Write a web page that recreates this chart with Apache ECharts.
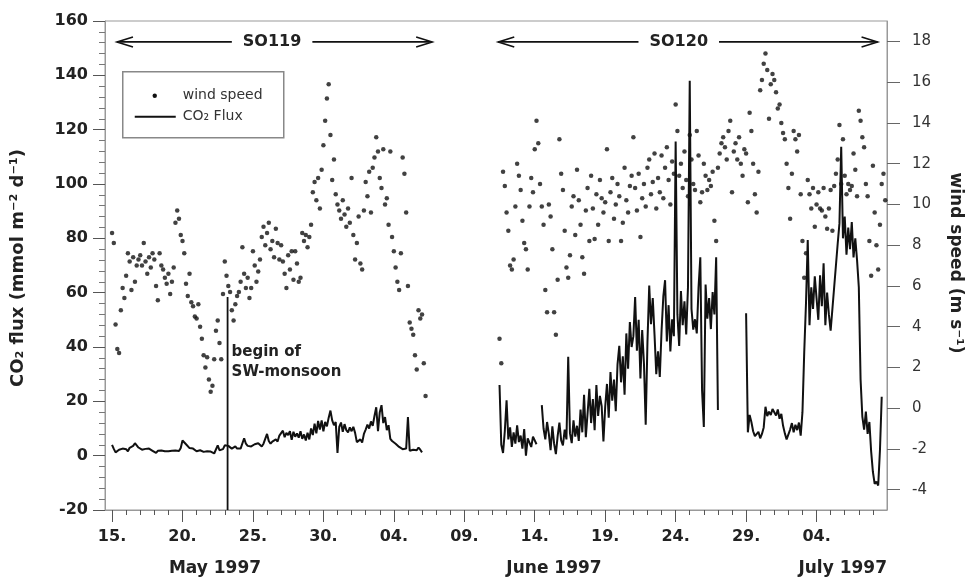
<!DOCTYPE html>
<html>
<head>
<meta charset="utf-8">
<title>CO2 flux and wind speed, SO119 / SO120</title>
<script src="https://cdn.jsdelivr.net/npm/echarts@6/dist/echarts.min.js"></script>
<style>
  html, body { margin: 0; padding: 0; background: #fff; }
  #chart { width: 968px; height: 578px; }
</style>
</head>
<body>
<div id="chart"></div>
<script>
// ---- measurements: 3-hourly samples, x in days counted from 1 May 1997 ----
const SAMPLE_STEP = 0.125;

// wind speed (m s-1), cruise SO119, first sample 15 May 00:00
const windSO119 = [
  8.6, 8.1, 4.1, 2.9, 2.7, 4.8, 5.9, 5.4,
  6.5, 7.6, 7.2, 5.8, 7.4, 6.2, 7.0, 7.3,
  7.5, 7.0, 8.1, 7.2, 6.6, 7.4, 6.9, 7.6,
  7.3, 6.0, 5.3, 7.6, 7.0, 6.8, 6.4, 6.1,
  6.6, 5.6, 6.2, 6.9, 9.1, 9.7, 9.3, 8.5,
  8.2, 7.6, 6.1, 5.5, 6.6, 5.2, 5.0, 4.5,
  4.4, 5.1, 4.0, 3.4, 2.6, 2.0, 2.5, 1.4,
  0.8, 1.1, 2.4, 3.8, 4.3, 3.2, 2.4, 5.6,
  7.2, 6.5, 6.0, 5.7, 4.8, 4.3, 5.1, 5.5,
  5.7, 6.2, 7.9, 6.6, 5.9, 6.4, 5.4, 5.9,
  7.7, 7.0, 6.2, 6.7, 7.3, 8.4, 8.9, 8.0,
  8.6, 9.1, 7.8, 8.2, 7.4, 8.8, 8.1, 7.3,
  8.0, 7.2, 6.6, 5.9, 7.5, 6.8, 7.7, 6.3,
  7.7, 7.1, 6.2, 6.4, 8.6, 8.2, 8.5, 7.9,
  8.4, 9.0, 10.6, 11.1, 10.2, 11.3, 9.8, 11.7,
  12.9, 14.1, 15.2, 15.9, 13.4, 11.2, 12.2, 10.5,
  10.0, 9.7, 9.3, 10.2, 9.5, 8.9, 9.8, 9.1,
  11.3, 8.5, 7.3, 8.1, 9.4, 7.1, 6.8, 9.7,
  11.1, 10.4, 11.6, 9.6, 11.8, 12.3, 13.3, 12.6,
  11.3, 10.8, 12.7, 10.0, 10.3, 9.0, 12.6, 8.4,
  7.7, 6.9, 6.2, 5.8, 7.6, 12.3, 11.5, 9.6,
  6.0, 4.2, 3.9, 3.6, 2.6, 1.9, 4.8, 4.4,
  4.6, 2.2, 0.6
];

// wind speed (m s-1), cruise SO120, first sample 11 June 12:00
const windSO120 = [
  3.4, 2.2, 11.6, 10.9,
  9.6, 8.7, 7.0, 6.8, 7.3, 9.9, 12.0, 11.4,
  10.7, 9.2, 8.1, 7.8, 6.8, 9.9, 11.3, 10.6,
  12.7, 14.1, 13.0, 11.0, 9.9, 9.0, 5.8, 4.7,
  10.0, 9.4, 7.8, 4.7, 3.6, 6.3, 13.2, 11.5,
  10.7, 8.7, 6.9, 6.4, 7.5, 9.9, 10.4, 8.5,
  11.7, 10.2, 9.0, 7.4, 6.6, 9.7, 10.8, 8.2,
  11.4, 9.8, 8.3, 10.5, 9.0, 11.2, 10.3, 9.6,
  10.1, 12.7, 8.2, 10.6, 11.3, 9.3, 10.0, 11.0,
  10.4, 8.2, 9.1, 11.8, 10.2, 9.6, 10.9, 11.4,
  13.3, 10.8, 9.7, 11.5, 8.4, 10.3, 11.0, 9.9,
  11.8, 12.2, 10.5, 11.1, 12.5, 9.8, 11.3, 10.6,
  12.4, 10.3, 11.8, 12.8, 11.2, 10.0, 12.1, 11.5,
  14.9, 13.6, 11.4, 12.0, 10.8, 12.6, 11.2, 10.4,
  13.4, 12.2, 11.0, 10.7, 13.6, 12.4, 10.1, 10.6,
  12.0, 11.4, 10.7, 11.2, 10.9, 11.6, 9.2, 8.2,
  11.8, 12.5, 13.0, 13.3, 12.8, 12.2, 13.6, 14.1,
  10.6, 12.6, 13.0, 12.2, 13.3, 12.0, 11.4, 12.7,
  12.5, 10.1, 14.5, 13.6, 12.0, 10.5, 9.6, 11.6,
  15.6, 16.1, 16.9, 17.4, 16.6, 14.2, 15.9, 16.4,
  16.1, 15.5, 14.7, 14.9, 14.0, 13.5, 13.2, 12.0,
  10.8, 9.3, 11.5, 13.6, 13.2, 12.6, 13.4, 10.5,
  8.2, 6.4, 7.6, 11.2, 10.5, 9.8, 10.8, 8.9,
  10.0, 10.6, 9.8, 9.7, 10.8, 9.4, 8.8, 9.8,
  10.7, 8.7, 10.9, 11.5, 12.2, 13.9, 11.0, 13.2,
  11.4, 10.5, 11.0, 10.7, 10.9, 12.5, 11.7, 10.4,
  14.6, 14.1, 13.3, 12.8, 11.0, 10.4, 8.2, 6.5,
  11.9, 9.6, 8.0, 6.8, 9.0, 11.0, 11.5, 10.2
];

// CO2 flux (mmol m-2 d-1), cruise SO119, first sample 15 May 00:00
const fluxSO119 = [
  4.0, 2.5, 1.2, 1.0, 2.2, 1.8, 2.6, 2.0,
  2.4, 1.6, 2.9, 2.2, 3.6, 4.6, 3.8, 3.0,
  2.8, 2.2, 1.9, 2.5, 3.0, 2.6, 2.2, 1.8,
  1.4, 1.0, 1.8, 2.3, 1.9, 2.2, 1.6, 1.3,
  1.6, 2.2, 1.8, 1.5, 1.9, 2.4, 1.7, 2.8,
  5.6, 5.0, 4.2, 3.6, 2.8, 2.2, 2.6, 2.0,
  1.6, 1.3, 2.0, 1.8, 1.4, 1.2, 1.6, 1.9,
  1.5, 1.0, 0.8, 1.2, 3.8, 2.0, 1.5, 2.4,
  3.8, 4.2, 3.6, 3.2, 2.6, 3.0, 3.4, 2.6,
  3.0, 2.6, 3.2, 6.4, 4.4, 3.6, 4.0, 3.4,
  3.8, 4.2, 3.6, 4.6, 4.0, 3.4, 4.4, 5.0,
  8.0, 5.4, 4.4, 5.2, 4.6, 6.0, 5.2, 7.4,
  7.0, 9.2, 6.8, 8.4, 7.6, 9.0, 5.8, 8.8,
  7.0, 8.2, 6.6, 9.0, 6.2, 7.8, 5.6, 8.4,
  6.0, 10.0, 7.6, 11.8, 8.2, 12.8, 9.6, 13.0,
  9.0, 12.4, 10.8, 14.0, 16.6, 13.0, 11.2, 12.4,
  1.0, 10.6, 12.2, 8.8, 11.6, 9.4, 8.6, 10.4,
  9.0, 10.6, 8.4, 5.0, 4.4, 6.0, 4.8, 8.0,
  9.6, 11.4, 10.0, 12.6, 11.0, 14.6, 17.8, 9.0,
  16.0, 18.6, 12.0, 14.2, 9.4, 11.2, 6.2, 5.4,
  5.0, 4.4, 3.8, 3.2, 2.8, 2.4, 2.0, 2.6,
  14.2, 1.8, 1.6, 2.2, 1.8, 2.0, 3.0, 2.2,
  1.2
];

// CO2 flux (mmol m-2 d-1), cruise SO120, first sample 11 June 12:00 (null = no record)
const fluxSO120 = [
  26.0, 4.0, 1.0, 9.0,
  20.4, 6.0, 10.4, 3.2, 8.6, 4.4, 11.2, 5.0,
  7.4, 2.6, 9.8, 0.0, 6.4, 4.8, 3.2, 7.0,
  6.6, 4.2, null, null, 18.6, 10.0, 6.0, 12.4,
  8.0, 2.0, 10.8, 4.4, 0.6, 7.2, 12.2, 5.6,
  3.8, 9.6, 6.0, 36.4, 8.2, 4.6, 13.0, 7.0,
  11.0, 5.4, 17.0, 8.6, 22.4, 6.8, 15.6, 24.6,
  12.0, 20.8, 9.4, 26.0, 14.6, 22.0, 18.2, 5.2,
  18.0, 26.4, 14.0, 30.8, 20.2, 28.0, 16.4, 33.6,
  40.4, 27.0, 36.6, 22.4, 45.0, 32.0, 49.2, 40.0,
  44.0, 58.4, 38.6, 50.0, 28.4, 46.2, 34.0, 11.4,
  42.0, 62.6, 48.4, 58.0, 44.6, 30.0, 38.4, 29.0,
  46.0, 58.6, 64.6, 42.0, 55.4, 38.4, 50.2, 44.0,
  115.6, 52.0, 40.4, 60.6, 48.0, 56.8, 44.6, 62.0,
  138.0, 54.0, 46.4, 50.2, 45.0, 62.0, 73.0, 24.0,
  10.6, 63.0, 50.4, 58.0, 46.6, 60.2, 52.0, 73.0,
  16.8, null, null, null, null, null, null, null,
  null, null, null, null, null, null, null, null,
  52.4, 8.6, 15.0, 12.4, 9.0, 7.2, 6.6, 8.8,
  6.4, 8.0, 10.4, 18.0, 14.6, 16.2, 15.0, 17.2,
  16.0, 14.8, 17.0, 13.6, 15.4, 11.0, 8.2, 6.0,
  5.8, 9.6, 12.0, 8.6, 11.4, 9.4, 12.2, 7.4,
  16.0, 38.0, 56.0, 79.4, 48.0, 62.0, 54.0, 66.0,
  58.0, 50.0, 66.4, 55.0, 70.8, 48.0, 60.0, 52.0,
  46.0, 54.0, 62.0, 70.0, 78.0, 85.5, 113.7, 80.0,
  88.0, 74.0, 84.0, 76.0, 86.0, 73.0, 80.0, 72.0,
  62.0, 28.0, 14.4, 9.6, 16.2, 8.0, 12.4, 1.6,
  -6.0, -10.4, -9.6, -11.0, 2.0, 21.7
];

const firstSampleDay = { SO119: 15.0, SO120: 42.5 };

// axis ticks
const dayTicks = [15, 20, 25, 30, 35, 40, 45, 50, 55, 60, 65];
const dayTickLabels = ['15.', '20.', '25.', '30.', '04.', '09.', '14.', '19.', '24.', '29.', '04.'];
const dailyTicks = [16,17,18,19,21,22,23,24,26,27,28,29,31,32,33,34,36,37,38,39,41,42,43,44,
                    46,47,48,49,51,52,53,54,56,57,58,59,61,62,63,64,66,67,68,69];
const windTicks = [-4, -2, 0, 2, 4, 6, 8, 10, 12, 14, 16, 18];
const monthLabels = ['May 1997', 'June 1997', 'July 1997'];

// cruise legs: name, start day, end day, day where the name sits
const cruiseNames = ['SO119', 'SO120'];
const cruiseStart = [15.35, 42.41];
const cruiseEnd = [37.72, 69.33];
const cruiseLabelDay = [26.36, 55.22];

// onset of the SW monsoon (day, flux range of the marker)
const monsoonOnset = [[23.2, -20, 58.4]];

// ---- helpers ----
const FONT = "'DejaVu Sans', 'Liberation Sans', sans-serif";
const INK = '#111';
const CRUISE_LEVEL = 152.3;   // flux-axis height of the cruise arrows

function toPoints(values, start) {
  return values.map((v, i) => [start + i * SAMPLE_STEP, v === null ? '-' : v]);
}

const windPoints = toPoints(windSO119, firstSampleDay.SO119)
  .concat(toPoints(windSO120, firstSampleDay.SO120));
const fluxPoints = toPoints(fluxSO119, firstSampleDay.SO119)
  .concat([[40, '-']])
  .concat(toPoints(fluxSO120, firstSampleDay.SO120));

const cruiseData = cruiseNames.map((n, i) => [cruiseStart[i], cruiseEnd[i], cruiseLabelDay[i]]);

const chart = echarts.init(document.getElementById('chart'), null, { renderer: 'canvas' });

chart.setOption({
  animation: false,
  backgroundColor: '#fff',
  grid: {
    left: 105, right: 81, top: 21, bottom: 68,
    show: true, borderColor: '#999', borderWidth: 1, backgroundColor: 'transparent'
  },
  xAxis: [
    {
      type: 'value', min: 14.5, max: 70, position: 'bottom',
      splitLine: { show: false },
      axisLine: { show: true, onZero: false, lineStyle: { color: '#999', width: 1 } },
      axisTick: { show: true, length: 12, customValues: dayTicks, lineStyle: { color: '#555', width: 1 } },
      axisLabel: {
        customValues: dayTicks,
        formatter: v => dayTickLabels[dayTicks.indexOf(v)] || '',
        margin: 19, color: '#222', fontFamily: FONT, fontWeight: 'bold', fontSize: 16
      }
    },
    {
      type: 'value', min: 14.5, max: 70, position: 'bottom',
      splitLine: { show: false },
      axisLine: { show: false, onZero: false },
      axisTick: { show: true, length: 5, customValues: dailyTicks, lineStyle: { color: '#555', width: 1 } },
      axisLabel: { show: false }
    }
  ],
  yAxis: [
    {
      type: 'value', min: -20, max: 160, interval: 20, position: 'left',
      splitLine: { show: false },
      axisLine: { show: true, onZero: false, lineStyle: { color: '#999', width: 1 } },
      axisTick: { show: true, length: 12, lineStyle: { color: '#555' } },
      minorTick: { show: true, splitNumber: 5, length: 6, lineStyle: { color: '#777' } },
      axisLabel: { margin: 17, color: '#222', fontFamily: FONT, fontWeight: 'bold', fontSize: 16 }
    },
    {
      type: 'value', min: -5, max: 19, position: 'right',
      splitLine: { show: false },
      axisLine: { show: true, onZero: false, lineStyle: { color: '#999', width: 1 } },
      axisTick: { show: true, length: 13, customValues: windTicks, lineStyle: { color: '#666' } },
      axisLabel: { customValues: windTicks, margin: 25, color: '#333', fontFamily: FONT, fontSize: 15 }
    }
  ],
  series: [
    {
      name: 'CO\u2082 Flux', type: 'line', xAxisIndex: 0, yAxisIndex: 0,
      data: fluxPoints, showSymbol: false, connectNulls: false,
      lineStyle: { color: INK, width: 2 }, z: 3
    },
    {
      name: 'wind speed', type: 'scatter', xAxisIndex: 0, yAxisIndex: 1,
      data: windPoints, symbol: 'circle', symbolSize: 4.5,
      itemStyle: { color: INK }, z: 2
    },
    {
      name: 'cruise legs', type: 'custom', xAxisIndex: 0, yAxisIndex: 0,
      data: cruiseData, silent: true, z: 4,
      renderItem: function (params, api) {
        const a = api.coord([api.value(0), CRUISE_LEVEL]);
        const b = api.coord([api.value(1), CRUISE_LEVEL]);
        const c = api.coord([api.value(2), CRUISE_LEVEL]);
        const y = a[1];
        const stroke = { stroke: INK, lineWidth: 1.6, fill: 'none' };
        return {
          type: 'group',
          children: [
            { type: 'line', shape: { x1: a[0], y1: y, x2: b[0], y2: y }, style: stroke },
            { type: 'polyline', shape: { points: [[a[0] + 16, y - 5], [a[0], y], [a[0] + 16, y + 5]] }, style: stroke },
            { type: 'polyline', shape: { points: [[b[0] - 16, y - 5], [b[0], y], [b[0] - 16, y + 5]] }, style: stroke },
            {
              type: 'text', x: c[0], y: y,
              style: {
                text: cruiseNames[params.dataIndex], align: 'center', verticalAlign: 'middle',
                font: "bold 16px " + FONT, fill: '#222',
                backgroundColor: '#fff', padding: [2, 11]
              }
            }
          ]
        };
      }
    },
    {
      name: 'monsoon onset', type: 'custom', xAxisIndex: 0, yAxisIndex: 0,
      data: monsoonOnset, silent: true, z: 4,
      renderItem: function (params, api) {
        const top = api.coord([api.value(0), api.value(2)]);
        const bottom = api.coord([api.value(0), api.value(1)]);
        return {
          type: 'group',
          children: [
            { type: 'line', shape: { x1: top[0], y1: top[1], x2: bottom[0], y2: bottom[1] },
              style: { stroke: INK, lineWidth: 1.8 } },
            {
              type: 'text', x: top[0] + 4, y: top[1] + 45,
              style: {
                text: 'begin of\nSW-monsoon', align: 'left', verticalAlign: 'top',
                font: "bold 15px " + FONT, lineHeight: 20, fill: '#222'
              }
            }
          ]
        };
      }
    }
  ],
  graphic: [
    // legend box
    {
      type: 'group', left: 122, top: 71,
      children: [
        { type: 'rect', shape: { x: 0, y: 0, width: 161, height: 66 },
          style: { fill: '#fff', stroke: '#888', lineWidth: 1.5 } },
        { type: 'circle', shape: { cx: 32, cy: 24, r: 2.2 }, style: { fill: INK } },
        { type: 'line', shape: { x1: 12, y1: 45, x2: 53, y2: 45 }, style: { stroke: INK, lineWidth: 2 } },
        { type: 'text', x: 60, y: 24,
          style: { text: 'wind speed', font: '14px ' + FONT, fill: '#333', verticalAlign: 'middle' } },
        { type: 'text', x: 60, y: 45,
          style: { text: 'CO\u2082 Flux', font: '14px ' + FONT, fill: '#333', verticalAlign: 'middle' } }
      ]
    },
    // axis titles
    {
      type: 'text', x: 18, y: 268, rotation: Math.PI / 2,
      style: { text: 'CO\u2082 flux (mmol m\u207B\u00B2 d\u207B\u00B9)', font: 'bold 18px ' + FONT,
               fill: '#222', align: 'center', verticalAlign: 'middle' }
    },
    {
      type: 'text', x: 955, y: 263, rotation: -Math.PI / 2,
      style: { text: 'wind speed (m s\u207B\u00B9)', font: 'bold 17px ' + FONT,
               fill: '#222', align: 'center', verticalAlign: 'middle' }
    },
    // month captions under the date axis
    { type: 'text', x: 215, y: 569,
      style: { text: monthLabels[0], font: 'bold 17px ' + FONT, fill: '#222', align: 'center', verticalAlign: 'middle' } },
    { type: 'text', x: 554, y: 569,
      style: { text: monthLabels[1], font: 'bold 17px ' + FONT, fill: '#222', align: 'center', verticalAlign: 'middle' } },
    { type: 'text', x: 887, y: 569,
      style: { text: monthLabels[2], font: 'bold 17px ' + FONT, fill: '#222', align: 'right', verticalAlign: 'middle' } }
  ]
});
</script>
</body>
</html>
